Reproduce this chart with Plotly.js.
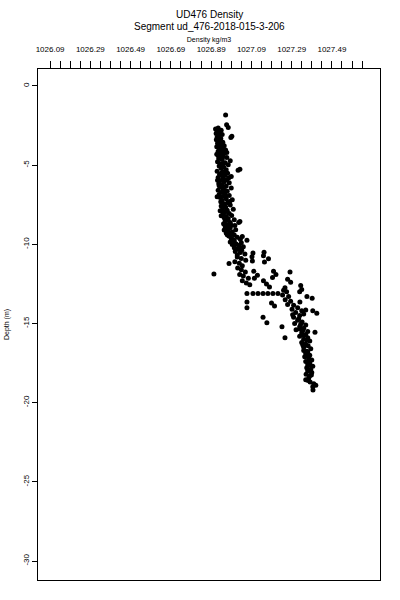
<!DOCTYPE html>
<html>
<head>
<meta charset="utf-8">
<script src="https://cdn.plot.ly/plotly-3.0.1.min.js"></script>
<style>html,body{margin:0;padding:0;background:#fff;}#chart{width:400px;height:600px;}</style>
</head>
<body>
<div id="chart"></div>
<script>
// Upper mixed-layer column
var upperDepth = [-1.83,-2.45,-2.62,-2.65,-2.72,-2.80,-2.86,-2.93,-3.00,-3.06,-3.12,-3.18,-3.26,-3.24,-3.32,-3.40,-3.47,-3.55,-3.62,-3.70,-3.77,-3.84,-3.92,-3.98,-4.05,-4.12,-4.18,-4.25,-4.32,-4.38,-4.45,-4.52,-4.58,-4.65,-4.72,-4.78,-4.85,-4.92,-4.98,-5.05,-5.12,-5.20,-5.26,-5.32,-5.30,-5.38,-5.45,-5.52,-5.58,-5.65,-5.72,-5.78,-5.85,-5.92,-5.98,-6.05,-6.12,-6.18,-6.25,-6.32,-6.38,-6.45,-6.52,-6.58,-6.65,-6.72,-6.78,-6.85,-6.92,-6.98,-7.05,-7.12,-7.18,-7.25,-7.32,-7.38,-7.45,-7.52,-7.58,-7.65,-7.72,-7.78,-7.85,-7.92,-7.98,-8.05,-8.12,-8.18,-8.25,-8.32,-8.38,-8.45,-8.52,-8.56,-8.62,-8.62,-8.70,-8.76,-8.82,-8.88,-8.95,-9.02,-9.08,-9.15,-9.22,-9.28,-9.35,-9.42,-9.48,-9.55,-9.62,-9.68,-9.75,-9.78,-9.85,-9.90,-9.96,-10.02,-10.08,-10.15,-10.22,-10.30,-10.38,-10.45,-10.52,-10.55,-10.50,-10.62,-10.68,-10.72,
  -3.35,-3.85,-4.40,-4.90,-5.40,-5.62,-5.95,-6.30,-6.60,-6.95,-7.30,-7.60,-7.88,-8.20,-8.48,-8.80,-9.10,-9.40,-9.70,-10.00,-10.25,-4.20,-5.80,-7.00,-9.50];
var upperDensity = [1026.962,1026.967,1026.975,1026.925,1026.912,1026.940,1026.920,1026.932,1026.915,1026.945,1026.926,1026.993,1026.988,1026.920,1026.938,1026.916,1026.930,1026.948,1026.922,1026.936,1026.955,1026.918,1026.930,1026.945,1026.962,1026.925,1026.940,1026.955,1026.918,1026.935,1026.950,1026.968,1026.928,1026.945,1026.985,1026.922,1026.960,1026.938,1026.975,1026.930,1026.952,1026.940,1027.033,1027.024,1026.965,1026.920,1026.945,1026.972,1026.932,1026.958,1026.990,1026.925,1026.948,1026.968,1026.935,1026.955,1026.980,1026.928,1026.945,1026.965,1026.938,1026.990,1026.950,1026.925,1026.970,1026.942,1026.958,1026.930,1026.980,1026.948,1026.935,1026.965,1026.995,1026.945,1026.938,1026.972,1026.955,1026.985,1026.940,1026.962,1026.948,1027.000,1026.970,1026.945,1026.958,1026.980,1026.950,1026.992,1026.965,1026.955,1026.975,1027.005,1026.960,1027.033,1027.027,1026.985,1026.952,1026.970,1027.008,1026.960,1026.985,1026.968,1027.012,1026.975,1026.995,1026.965,1026.985,1027.005,1026.978,1027.020,1026.990,1027.035,1027.068,1027.005,1026.985,1027.040,1027.012,1026.995,1027.028,1027.050,1027.005,1027.022,1027.042,1027.010,1027.035,1027.098,1027.153,1027.058,1027.020,1027.150,
  1026.925,1026.940,1026.925,1026.950,1026.958,1026.942,1026.922,1026.930,1026.960,1026.960,1026.982,1026.950,1026.935,1026.940,1026.970,1026.990,1026.955,1026.970,1026.998,1027.015,1027.040,1026.968,1026.978,1026.920,1027.045];

// Pycnocline transition
var transDepth = [-10.80,-10.90,-11.00,-11.10,-11.20,-10.78,-11.05,-10.92,-11.12,-11.22,-11.88,-11.35,-11.50,-11.60,-11.75,-11.90,-12.00,-12.15,-12.30,-12.45,-12.55,-11.70,-11.95,-12.15,-12.30,-12.50,-12.70,-11.70,-11.90,-12.10,-11.75,-12.20,-12.40,-13.10,-13.10,-13.10,-13.10,-13.10,-13.10,-13.10,-12.90,-13.00,-13.20,-13.30,-13.50,-13.60,-13.80,-12.75,-12.60,-12.85,-13.00,-13.30,-13.40,-13.65,-14.00,-13.70,-13.90,-13.65];
var transDensity = [1027.020,1027.040,1027.062,1027.008,1027.030,1027.093,1027.095,1027.175,1027.155,1026.979,1026.904,1027.045,1027.022,1027.040,1027.060,1027.032,1027.050,1027.075,1027.045,1027.065,1027.082,1027.102,1027.120,1027.105,1027.150,1027.165,1027.180,1027.200,1027.212,1027.195,1027.282,1027.270,1027.285,1027.068,1027.098,1027.123,1027.148,1027.172,1027.197,1027.222,1027.250,1027.265,1027.245,1027.275,1027.258,1027.285,1027.270,1027.257,1027.335,1027.340,1027.330,1027.366,1027.392,1027.068,1027.068,1027.190,1027.205,1027.331];

// Lower layer column
var lowerDepth = [-13.85,-14.00,-14.10,-14.20,-14.30,-14.40,-14.50,-14.60,-14.20,-14.35,-14.60,-14.95,-15.20,-14.80,-14.90,-15.00,-15.10,-15.20,-15.30,-15.40,-15.50,-15.55,-15.90,-15.60,-15.70,-15.80,-15.90,-16.00,-16.10,-16.20,-16.30,-16.40,-16.50,-16.60,-16.70,-16.80,-16.90,-17.00,-17.10,-17.20,-17.30,-17.40,-17.50,-17.60,-17.70,-17.80,-17.90,-18.00,-18.10,-18.20,-18.30,-18.45,-18.55,-18.70,-18.80,-18.90,-19.00,-19.20,
  -14.70,-15.05,-15.35,-15.75,-16.05,-16.35,-16.75,-17.05,-17.35,-17.65,-17.95,-18.25,-18.60,-14.45,-14.15,-15.45];
var lowerDensity = [1027.300,1027.320,1027.292,1027.340,1027.310,1027.350,1027.330,1027.300,1027.395,1027.415,1027.148,1027.167,1027.242,1027.320,1027.342,1027.305,1027.360,1027.330,1027.350,1027.312,1027.370,1027.406,1027.257,1027.340,1027.360,1027.330,1027.370,1027.350,1027.380,1027.340,1027.360,1027.372,1027.350,1027.385,1027.350,1027.370,1027.360,1027.380,1027.355,1027.375,1027.390,1027.360,1027.380,1027.370,1027.395,1027.365,1027.385,1027.370,1027.390,1027.362,1027.380,1027.375,1027.360,1027.382,1027.400,1027.410,1027.395,1027.396,
  1027.325,1027.335,1027.330,1027.350,1027.365,1027.345,1027.365,1027.368,1027.375,1027.382,1027.372,1027.388,1027.372,1027.295,1027.360,1027.345];

var xTickVals = [1026.09,1026.14,1026.19,1026.24,1026.29,1026.34,1026.39,1026.44,1026.49,1026.54,1026.59,1026.64,1026.69,1026.74,1026.79,1026.84,1026.89,1026.94,1026.99,1027.04,1027.09,1027.14,1027.19,1027.24,1027.29,1027.34,1027.39,1027.44,1027.49,1027.54,1027.59,1027.64];
var xTickText = ['1026.09','','','','1026.29','','','','1026.49','','','','1026.69','','','','1026.89','','','','1027.09','','','','1027.29','','','','1027.49','','',''];
var yTickVals = [0,-5,-10,-15,-20,-25,-30];
var yTickText = ['0','-5','-10','-15','-20','-25','-30'];
var titleLines = ['UD476 Density', 'Segment ud_476-2018-015-3-206'];

var allDepth = upperDepth.concat(transDepth, lowerDepth);
var allDensity = upperDensity.concat(transDensity, lowerDensity);

var font = 'Liberation Sans, Arial, sans-serif';
var trace = {
  x: allDensity, y: allDepth, type: 'scatter', mode: 'markers',
  marker: {color: '#000', size: 5, symbol: 'circle', line: {width: 0}},
  hoverinfo: 'skip'
};
var layout = {
  width: 400, height: 600,
  margin: {l: 38, r: 20, t: 69, b: 20, pad: 0},
  paper_bgcolor: '#fff', plot_bgcolor: '#fff',
  showlegend: false,
  font: {family: font, color: '#000', size: 8},
  annotations: [
    {text: titleLines[0], xref: 'paper', yref: 'paper', x: 0.5, y: 1.1076, xanchor: 'center', yanchor: 'middle', showarrow: false, font: {family: font, size: 10, color: '#000'}},
    {text: titleLines[1], xref: 'paper', yref: 'paper', x: 0.5, y: 1.0841, xanchor: 'center', yanchor: 'middle', showarrow: false, font: {family: font, size: 10, color: '#000'}}
  ],
  xaxis: {
    side: 'top', range: [1026.030, 1027.729], autorange: false,
    tickmode: 'array', tickvals: xTickVals, ticktext: xTickText,
    ticks: 'outside', ticklen: 7, tickwidth: 1, tickcolor: '#000',
    tickfont: {family: font, size: 8, color: '#000'}, ticklabelstandoff: 6,
    showgrid: false, zeroline: false,
    showline: true, linecolor: '#000', linewidth: 1, mirror: true,
    title: {text: 'Density kg/m3', font: {family: font, size: 7, color: '#000'}, standoff: 1}
  },
  yaxis: {
    range: [-31.2, 1.07], autorange: false,
    tickmode: 'array', tickvals: yTickVals, ticktext: yTickText, tickangle: -90,
    ticks: 'outside', ticklen: 5, tickwidth: 1, tickcolor: '#000',
    tickfont: {family: font, size: 8, color: '#000'},
    showgrid: false, zeroline: false,
    showline: true, linecolor: '#000', linewidth: 1, mirror: true,
    title: {text: 'Depth (m)', font: {family: font, size: 7, color: '#000'}, standoff: 11}
  }
};
Plotly.newPlot('chart', [trace], layout, {displayModeBar: false, staticPlot: true});
</script>
</body>
</html>
